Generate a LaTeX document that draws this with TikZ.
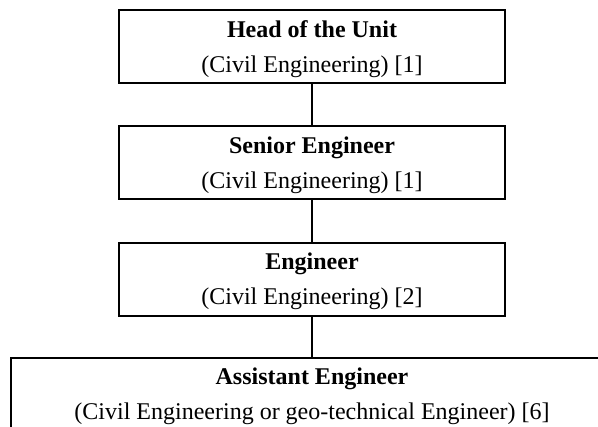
\documentclass[tikz,border=0pt]{standalone}
\usepackage{fontspec}
\setmainfont{Liberation Serif}
\begin{document}
\begin{tikzpicture}[x=1pt,y=1pt,
  unitbox/.style={draw, line width=2pt, minimum width=386pt, minimum height=73pt, inner sep=0pt},
  title/.style={font=\fontsize{24}{35}\selectfont\bfseries, anchor=base, inner sep=0pt},
  sub/.style={font=\fontsize{24}{35}\selectfont, anchor=base, inner sep=0pt},
  link/.style={line width=1.5pt}]
\useasboundingbox (0,0) rectangle (598,427);
\clip (0,0) rectangle (598,427);

% Head of the unit
\node[unitbox] (head) at (312,380.6) {};
\node[title] (headT) at (312,389.7) {Head of the Unit};
\node[sub] (headS) at (312,354.7) {(Civil Engineering) [1]};

% Senior engineer
\node[unitbox] (senior) at (312,264.2) {};
\node[title] (seniorT) at (312,273.7) {Senior Engineer};
\node[sub] (seniorS) at (312,238.7) {(Civil Engineering) [1]};

% Engineer
\node[unitbox] (eng) at (312,147.5) {};
\node[title] (engT) at (312,157.2) {Engineer};
\node[sub] (engS) at (312,122.2) {(Civil Engineering) [2]};

% Assistant engineer (box runs off the page at right and bottom)
\node[unitbox, minimum width=602pt, minimum height=80pt] (asst) at (312,29.3) {};
\node[title] (asstT) at (312,42) {Assistant Engineer};
\node[sub] (asstS) at (312,7) {(Civil Engineering or geo-technical Engineer) [6]};

% Reporting lines
\draw[link] (head.south) -- (senior.north);
\draw[link] (senior.south) -- (eng.north);
\draw[link] (eng.south) -- (asst.north);
\end{tikzpicture}
\end{document}
